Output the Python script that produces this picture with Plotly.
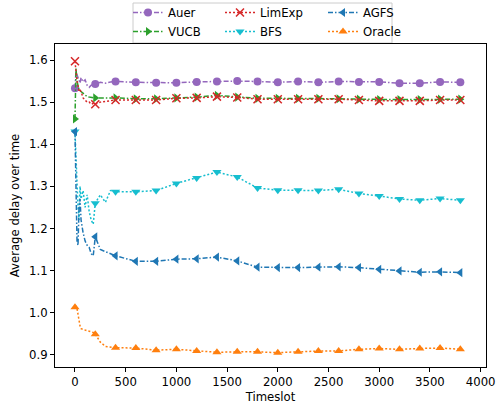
import plotly.graph_objects as go

# ---------------- data ----------------
timeslot = [0, 10, 20, 30, 40, 50, 60, 80, 100, 120, 140, 160, 180, 200,
            250, 300, 350, 400, 600, 800, 1000, 1200, 1400, 1600, 1800, 2000,
            2200, 2400, 2600, 2800, 3000, 3200, 3400, 3600, 3800]

auer = [1.533, 1.575, 1.565, 1.560, 1.552, 1.545, 1.558, 1.548, 1.553, 1.540, 1.535, 1.540, 1.542, 1.543,
        1.547, 1.545, 1.548, 1.549, 1.547, 1.546, 1.546, 1.548, 1.549, 1.550, 1.549, 1.547,
        1.549, 1.547, 1.549, 1.548, 1.548, 1.545, 1.545, 1.548, 1.547]

limexp = [1.597, 1.570, 1.550, 1.540, 1.525, 1.528, 1.525, 1.510, 1.505, 1.500, 1.500, 1.495, 1.497, 1.495,
          1.500, 1.502, 1.503, 1.505, 1.505, 1.505, 1.509, 1.510, 1.513, 1.511, 1.507, 1.507,
          1.507, 1.507, 1.507, 1.505, 1.503, 1.503, 1.503, 1.505, 1.505]

agfs = [1.430, 1.300, 1.170, 1.160, 1.250, 1.270, 1.220, 1.190, 1.170, 1.160, 1.155, 1.140, 1.135, 1.180,
        1.150, 1.145, 1.140, 1.135, 1.122, 1.122, 1.127, 1.128, 1.132, 1.123, 1.108, 1.107,
        1.107, 1.108, 1.109, 1.107, 1.103, 1.099, 1.096, 1.097, 1.095]

vucb = [1.460, 1.580, 1.550, 1.535, 1.530, 1.527, 1.525, 1.520, 1.515, 1.513, 1.512, 1.511, 1.510, 1.510,
        1.510, 1.510, 1.510, 1.510, 1.508, 1.508, 1.510, 1.512, 1.516, 1.512, 1.509, 1.509,
        1.509, 1.509, 1.508, 1.507, 1.506, 1.506, 1.506, 1.507, 1.507]

bfs = [1.430, 1.360, 1.300, 1.250, 1.220, 1.300, 1.270, 1.290, 1.250, 1.280, 1.240, 1.220, 1.210, 1.260,
       1.280, 1.262, 1.290, 1.287, 1.287, 1.290, 1.307, 1.320, 1.334, 1.322, 1.296, 1.291,
       1.291, 1.290, 1.293, 1.283, 1.277, 1.270, 1.267, 1.271, 1.267]

oracle = [1.013, 1.015, 1.010, 0.995, 0.975, 0.968, 0.962, 0.960, 0.958, 0.957, 0.956, 0.955, 0.953, 0.949,
          0.930, 0.920, 0.919, 0.917, 0.916, 0.911, 0.913, 0.909, 0.906, 0.907, 0.907, 0.905,
          0.907, 0.909, 0.909, 0.913, 0.915, 0.913, 0.915, 0.916, 0.913]

x_ticks = [0, 500, 1000, 1500, 2000, 2500, 3000, 3500, 4000]
y_ticks = [0.9, 1.0, 1.1, 1.2, 1.3, 1.4, 1.5, 1.6]

# ---------------- styles ----------------
series = [
    ("Auer", auer, "#9467bd", "circle", "5px,2px,1.5px,2px", "legend"),
    ("VUCB", vucb, "#2ca02c", "triangle-right", "5px,2px,1.5px,2px", "legend"),
    ("LimExp", limexp, "#d62728", "x-thin-open", "2px,2px", "legend2"),
    ("BFS", bfs, "#17becf", "triangle-down", "2px,2px", "legend2"),
    ("AGFS", agfs, "#1f77b4", "triangle-left", "5px,2px,1.5px,2px", "legend3"),
    ("Oracle", oracle, "#ff7f0e", "triangle-up", "2px,2px", "legend3"),
]

W, H = 498, 408
L, R, T, B = 55, 12, 44, 41
pw, ph = W - L - R, H - T - B
FS = 11.7


def px_x(p):
    return (p - L) / pw


def px_y(p):
    return (H - B - p) / ph


fig = go.Figure()
for name, vals, color, sym, dash, lg in series:
    mx = [t for t in timeslot if t % 200 == 0]
    my = [v for t, v in zip(timeslot, vals) if t % 200 == 0]
    fig.add_trace(go.Scatter(x=timeslot, y=vals, mode="lines", showlegend=False,
                             line=dict(color=color, width=1.5, dash=dash), hoverinfo="skip"))
    mk = dict(color=color, size=8, symbol=sym)
    if sym == "x-thin-open":
        mk = dict(color=color, size=8, symbol=sym, line=dict(color=color, width=1.5))
    fig.add_trace(go.Scatter(x=mx, y=my, mode="markers", showlegend=False, marker=mk))
    fig.add_trace(go.Scatter(x=[None], y=[None], mode="lines+markers", name=name, legend=lg,
                             line=dict(color=color, width=1.5, dash=dash), marker=mk))

leg_common = dict(font=dict(family="DejaVu Sans", size=FS, color="black"),
                  bgcolor="rgba(0,0,0,0)", borderwidth=0, yanchor="top",
                  xanchor="left", orientation="v", tracegroupgap=0, itemwidth=30)
fig.update_layout(
    width=W, height=H,
    margin=dict(l=L, r=R, t=T, b=B, autoexpand=False),
    paper_bgcolor="white", plot_bgcolor="white",
    font=dict(family="DejaVu Sans", size=FS, color="black"),
    legend=dict(x=px_x(128), y=px_y(-2), **leg_common),
    legend2=dict(x=px_x(220), y=px_y(-2), **leg_common),
    legend3=dict(x=px_x(323), y=px_y(-2), **leg_common),
    xaxis=dict(range=[-197, 4053], tickvals=x_ticks, ticktext=[str(v) for v in x_ticks],
               showgrid=False, zeroline=False, showline=True, linecolor="black", linewidth=1,
               mirror=True, ticks="outside", ticklen=4, tickcolor="black",
               title=dict(text="Timeslot", standoff=4, font=dict(size=FS))),
    yaxis=dict(range=[0.871, 1.638], tickvals=y_ticks, ticktext=[f"{v:.1f}" for v in y_ticks],
               showgrid=False, zeroline=False, showline=True, linecolor="black", linewidth=1,
               mirror=True, ticks="outside", ticklen=4, tickcolor="black",
               title=dict(text="Average delay over time", standoff=6, font=dict(size=FS))),
    shapes=[dict(type="rect", xref="paper", yref="paper",
                 x0=px_x(133), x1=px_x(392), y0=px_y(43), y1=px_y(3),
                 line=dict(color="#cccccc", width=1), fillcolor="white", layer="below")],
)

fig.write_html("out.html")
